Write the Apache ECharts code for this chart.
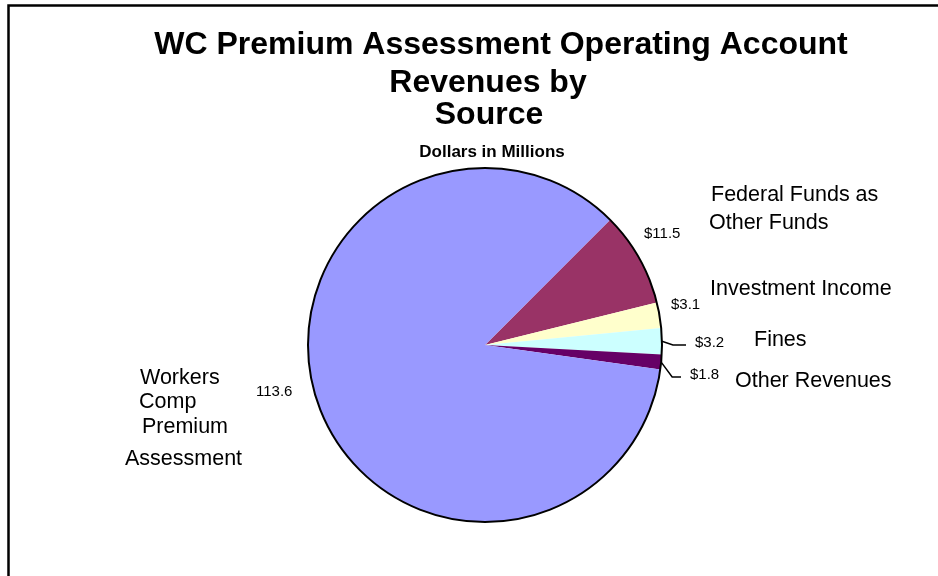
<!DOCTYPE html>
<html><head><meta charset="utf-8">
<script src="https://cdn.jsdelivr.net/npm/echarts@6/dist/echarts.min.js"></script>
<style>html,body{margin:0;padding:0;background:#fff}#c{width:938px;height:576px}</style>
</head><body><div id="c"></div>
<script>
// ---- data ----
const categories = ['Federal Funds as Other Funds', 'Investment Income', 'Fines', 'Other Revenues', 'Workers Comp Premium Assessment'];
const values = [11.5, 3.1, 3.2, 1.8, 113.6];
const valuePrefix = ['$', '$', '$', '$', ''];
const nameLines = [['Federal Funds as', 'Other Funds'], ['Investment Income'], ['Fines'], ['Other Revenues'], ['Workers', 'Comp', 'Premium', 'Assessment']];
const titleLines = ['WC Premium Assessment Operating Account', 'Revenues by', 'Source'];
const subtitle = 'Dollars in Millions';

// ---- styles / layout ----
const FONT = "'Liberation Sans', Arial, sans-serif";
const colors = ['#993366', '#FFFFCC', '#CCFFFF', '#660066', '#9999FF'];
const valueLabelPos = [[644, 234], [671, 305], [695, 343], [690, 375], [256, 392]];
const nameLinePos = [[[711, 195], [709, 223]], [[710, 289]], [[754, 340]], [[735, 381]], [[140, 378], [139, 402], [142, 427], [125, 459]]];
const showLeader = [false, false, true, true, false];
const titlePos = [[501, 45], [488, 83], [489, 115]];
const subtitlePos = [492, 152];

const chart = echarts.init(document.getElementById('c'), null, {renderer: 'canvas'});

const graphics = [{
  type: 'rect', z: 0, silent: true,
  shape: {x: 8.5, y: 5.5, width: 1200, height: 1200},
  style: {fill: null, stroke: '#000', lineWidth: 2.5}
}];
titleLines.forEach((t, i) => graphics.push({
  type: 'text', silent: true,
  style: {text: t, x: titlePos[i][0], y: titlePos[i][1], align: 'center', verticalAlign: 'middle',
    font: 'bold 32px ' + FONT, fill: '#000'}
}));
graphics.push({
  type: 'text', silent: true,
  style: {text: subtitle, x: subtitlePos[0], y: subtitlePos[1], align: 'center', verticalAlign: 'middle',
    font: 'bold 17px ' + FONT, fill: '#000'}
});
nameLines.forEach((lines, i) => lines.forEach((ln, j) => graphics.push({
  type: 'text', silent: true,
  style: {text: ln, x: nameLinePos[i][j][0], y: nameLinePos[i][j][1], align: 'left', verticalAlign: 'middle',
    font: '21.5px ' + FONT, fill: '#000'}
})));

chart.setOption({
  animation: false,
  backgroundColor: '#fff',
  graphic: graphics,
  series: [{
    type: 'pie',
    center: [485, 345],
    radius: 177,
    startAngle: 45,
    clockwise: true,
    avoidLabelOverlap: false,
    silent: true,
    emphasis: {disabled: true},
    itemStyle: {borderWidth: 0},
    data: values.map((v, i) => ({
      name: categories[i], value: v,
      itemStyle: {color: colors[i]},
      labelLine: {show: showLeader[i]}
    })),
    label: {
      show: true, position: 'outside',
      formatter: p => valuePrefix[p.dataIndex] + p.value,
      fontSize: 15, fontFamily: FONT, color: '#000'
    },
    labelLine: {show: false, length: 10, length2: 12, lineStyle: {color: '#000', width: 1.5}},
    labelLayout: p => {
      const [lx, ly] = valueLabelPos[p.dataIndex];
      const out = {x: lx, y: ly, align: 'left', verticalAlign: 'middle'};
      if (showLeader[p.dataIndex] && p.labelLinePoints && p.labelLinePoints.length) {
        const p0 = p.labelLinePoints[0];
        out.labelLinePoints = [[p0[0], p0[1]], [p0[0] + 11, ly + 2], [lx - 9, ly + 2]];
      }
      return out;
    }
  }, {
    type: 'pie',
    center: [485, 345],
    radius: 177,
    silent: true,
    emphasis: {disabled: true},
    data: [{value: 1, name: 'outline'}],
    itemStyle: {color: 'rgba(0,0,0,0)', borderColor: '#000', borderWidth: 2},
    label: {show: false},
    labelLine: {show: false}
  }]
});
</script>
</body></html>
